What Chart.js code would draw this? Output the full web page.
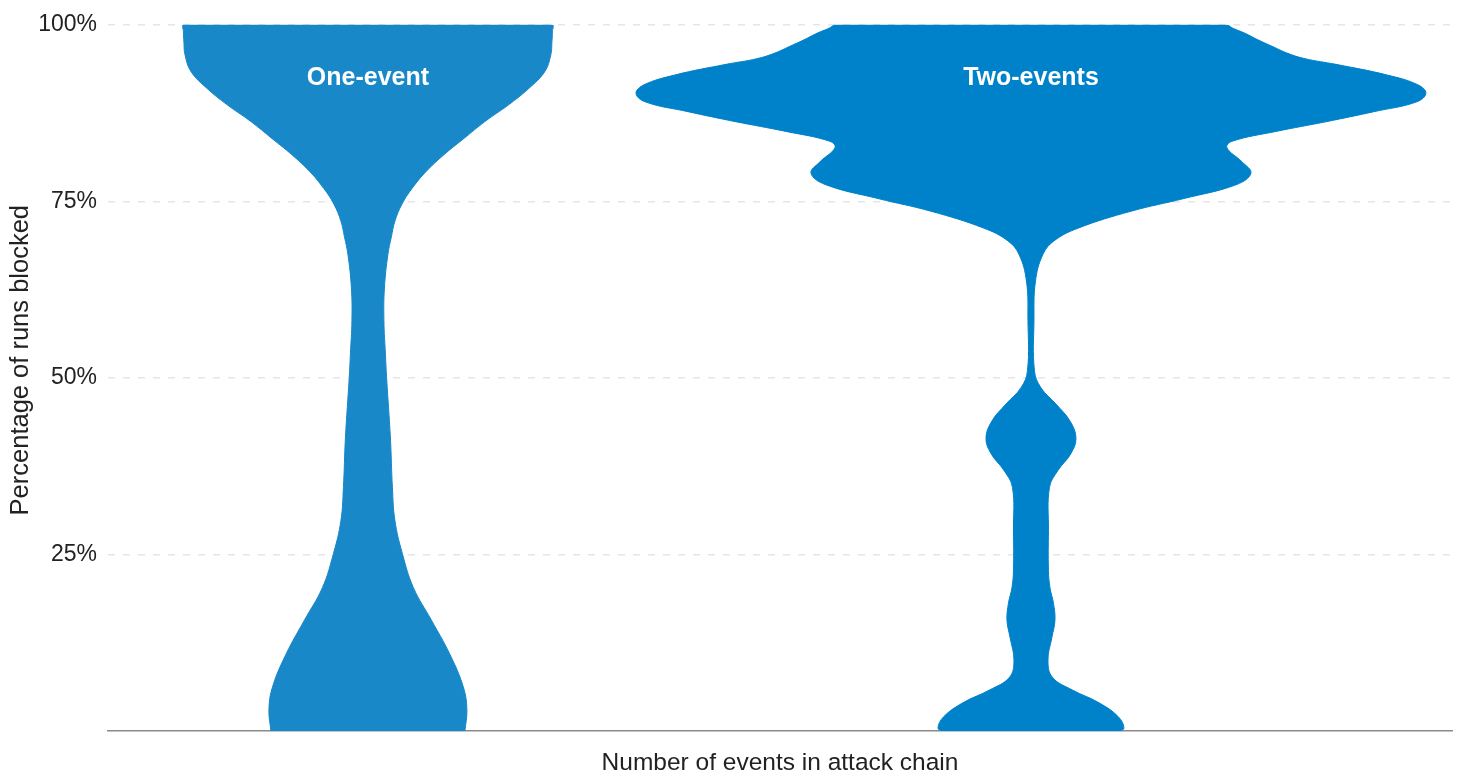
<!DOCTYPE html>
<html>
<head>
<meta charset="utf-8">
<script src="https://cdn.jsdelivr.net/npm/chart.js@4/dist/chart.umd.min.js"></script>
<style>
  html, body { margin: 0; padding: 0; background: #ffffff; }
  #wrap { position: relative; width: 1460px; height: 776px; }
</style>
</head>
<body>
<div id="wrap"><canvas id="chart"></canvas></div>
<script>
// ---- Data ----
const categories = ['One-event', 'Two-events'];
const categoryPositions = [0, 1];
const colors = ['#1888c8', '#0082ca'];

// Percentage levels (y) and estimated density (half-width, arbitrary units)
const oneEventLevels = [100, 99, 97.5, 95.8, 93.4, 91.0, 88.7, 86.3, 83.9, 81.6, 79.2, 76.8, 74.6, 72.2, 70.0, 67.5, 62.7, 58.1, 53.4, 50.0, 41.5, 34.5, 29.8, 25.1, 20.3, 15.7, 11.0, 6.2, 3.0, 0];
const oneEventDensity = [1.84, 1.845, 1.84, 1.83, 1.77, 1.61, 1.41, 1.17, 0.96, 0.76, 0.58, 0.44, 0.34, 0.27, 0.235, 0.20, 0.165, 0.16, 0.175, 0.187, 0.225, 0.245, 0.27, 0.345, 0.455, 0.635, 0.815, 0.955, 0.99, 0.97];

const twoEventsLevels = [100, 99.5, 98.8, 97.8, 96.9, 96.0, 95.2, 94.4, 92.9, 91.5, 90.3, 89.1, 87.7, 86.3, 84.9, 83.5, 82.6, 80.6, 79.0, 77.4, 75.4, 73.6, 71.2, 69.4, 67.5, 63.7, 58.1, 51.0, 48.6, 46.3, 43.9, 41.5, 39.3, 36.9, 34.5, 28.4, 22.7, 20.3, 18.1, 15.7, 13.3, 10.0, 7.6, 5.8, 4.0, 2.0, 0.4, 0];
const twoEventsDensity = [1.95, 2.02, 2.14, 2.28, 2.42, 2.56, 2.74, 3.05, 3.56, 3.87, 3.95, 3.86, 3.43, 2.96, 2.45, 2.01, 1.96, 2.11, 2.20, 2.06, 1.53, 1.00, 0.47, 0.23, 0.12, 0.045, 0.03, 0.035, 0.10, 0.25, 0.39, 0.45, 0.40, 0.27, 0.185, 0.175, 0.175, 0.19, 0.225, 0.24, 0.21, 0.17, 0.215, 0.415, 0.68, 0.875, 0.93, 0.88];

const yTicks = [25, 50, 75, 100];
const xTitle = 'Number of events in attack chain';
const yTitle = 'Percentage of runs blocked';

// ---- Rendering settings ----
const DENSITY_SCALE = 0.1508;  // x-axis units per density unit
const LABEL_LEVEL = 92.4;
const FONT = '"Liberation Sans", Arial, Helvetica, sans-serif';

function violinOutline(center, levels, density) {
  const right = [];
  const left = [];
  for (let i = levels.length - 1; i >= 0; i--) {
    right.push({ x: center + density[i] * DENSITY_SCALE, y: levels[i] });
  }
  for (let i = 0; i < levels.length; i++) {
    left.push({ x: center - density[i] * DENSITY_SCALE, y: levels[i] });
  }
  return right.concat(left);
}

const series = [
  { levels: oneEventLevels, density: oneEventDensity },
  { levels: twoEventsLevels, density: twoEventsDensity }
];

const datasets = series.map((s, i) => ({
  label: categories[i],
  data: violinOutline(categoryPositions[i], s.levels, s.density),
  backgroundColor: colors[i],
  borderColor: colors[i],
  borderWidth: 1,
  pointRadius: 0,
  tension: 0.4,
  fill: 'shape'
}));

const labelPlugin = {
  id: 'violinLabels',
  afterDatasetsDraw(chart) {
    const { ctx, scales } = chart;
    ctx.save();
    ctx.fillStyle = '#ffffff';
    ctx.font = 'bold 25px ' + FONT;
    ctx.textAlign = 'center';
    ctx.textBaseline = 'middle';
    categories.forEach((name, i) => {
      ctx.fillText(name, scales.x.getPixelForValue(categoryPositions[i]), scales.y.getPixelForValue(LABEL_LEVEL));
    });
    ctx.restore();
  }
};

new Chart(document.getElementById('chart'), {
  type: 'line',
  data: { datasets },
  plugins: [labelPlugin],
  options: {
    responsive: true,
    maintainAspectRatio: false,
    animation: false,
    events: [],
    layout: { padding: { top: 21, right: 8, left: 0, bottom: 0 } },
    plugins: {
      legend: { display: false },
      tooltip: { enabled: false }
    },
    scales: {
      x: {
        type: 'linear',
        min: -0.392,
        max: 1.635,
        ticks: { display: false },
        grid: { display: false, drawTicks: false },
        border: { display: true, color: '#8a8a8a', width: 1.5 },
        title: {
          display: true,
          text: xTitle,
          color: '#222222',
          font: { family: FONT, size: 24.5, lineHeight: 1 },
          padding: { top: 0, bottom: 1 }
        },
        afterFit(scale) { scale.height = 45; }
      },
      y: {
        type: 'linear',
        min: 0,
        max: 100,
        afterBuildTicks(scale) {
          scale.ticks = [0].concat(yTicks).map(v => ({ value: v }));
        },
        ticks: {
          color: '#222222',
          padding: 11,
          font: { family: FONT, size: 23 },
          callback: (v) => (v === 0 ? '' : v + '%')
        },
        grid: {
          drawTicks: false,
          lineWidth: 1.5,
          color: (ctx) => (ctx.tick && ctx.tick.value === 0 ? 'rgba(0,0,0,0)' : '#e6e6e6')
        },
        border: { display: false, dash: [7, 8] },
        title: {
          display: true,
          text: '     ' + yTitle,
          color: '#222222',
          font: { family: FONT, size: 25.5 },
          padding: { top: 6, bottom: 0 }
        },
        afterFit(scale) { scale.width = 108; }
      }
    }
  }
});
</script>
</body>
</html>
